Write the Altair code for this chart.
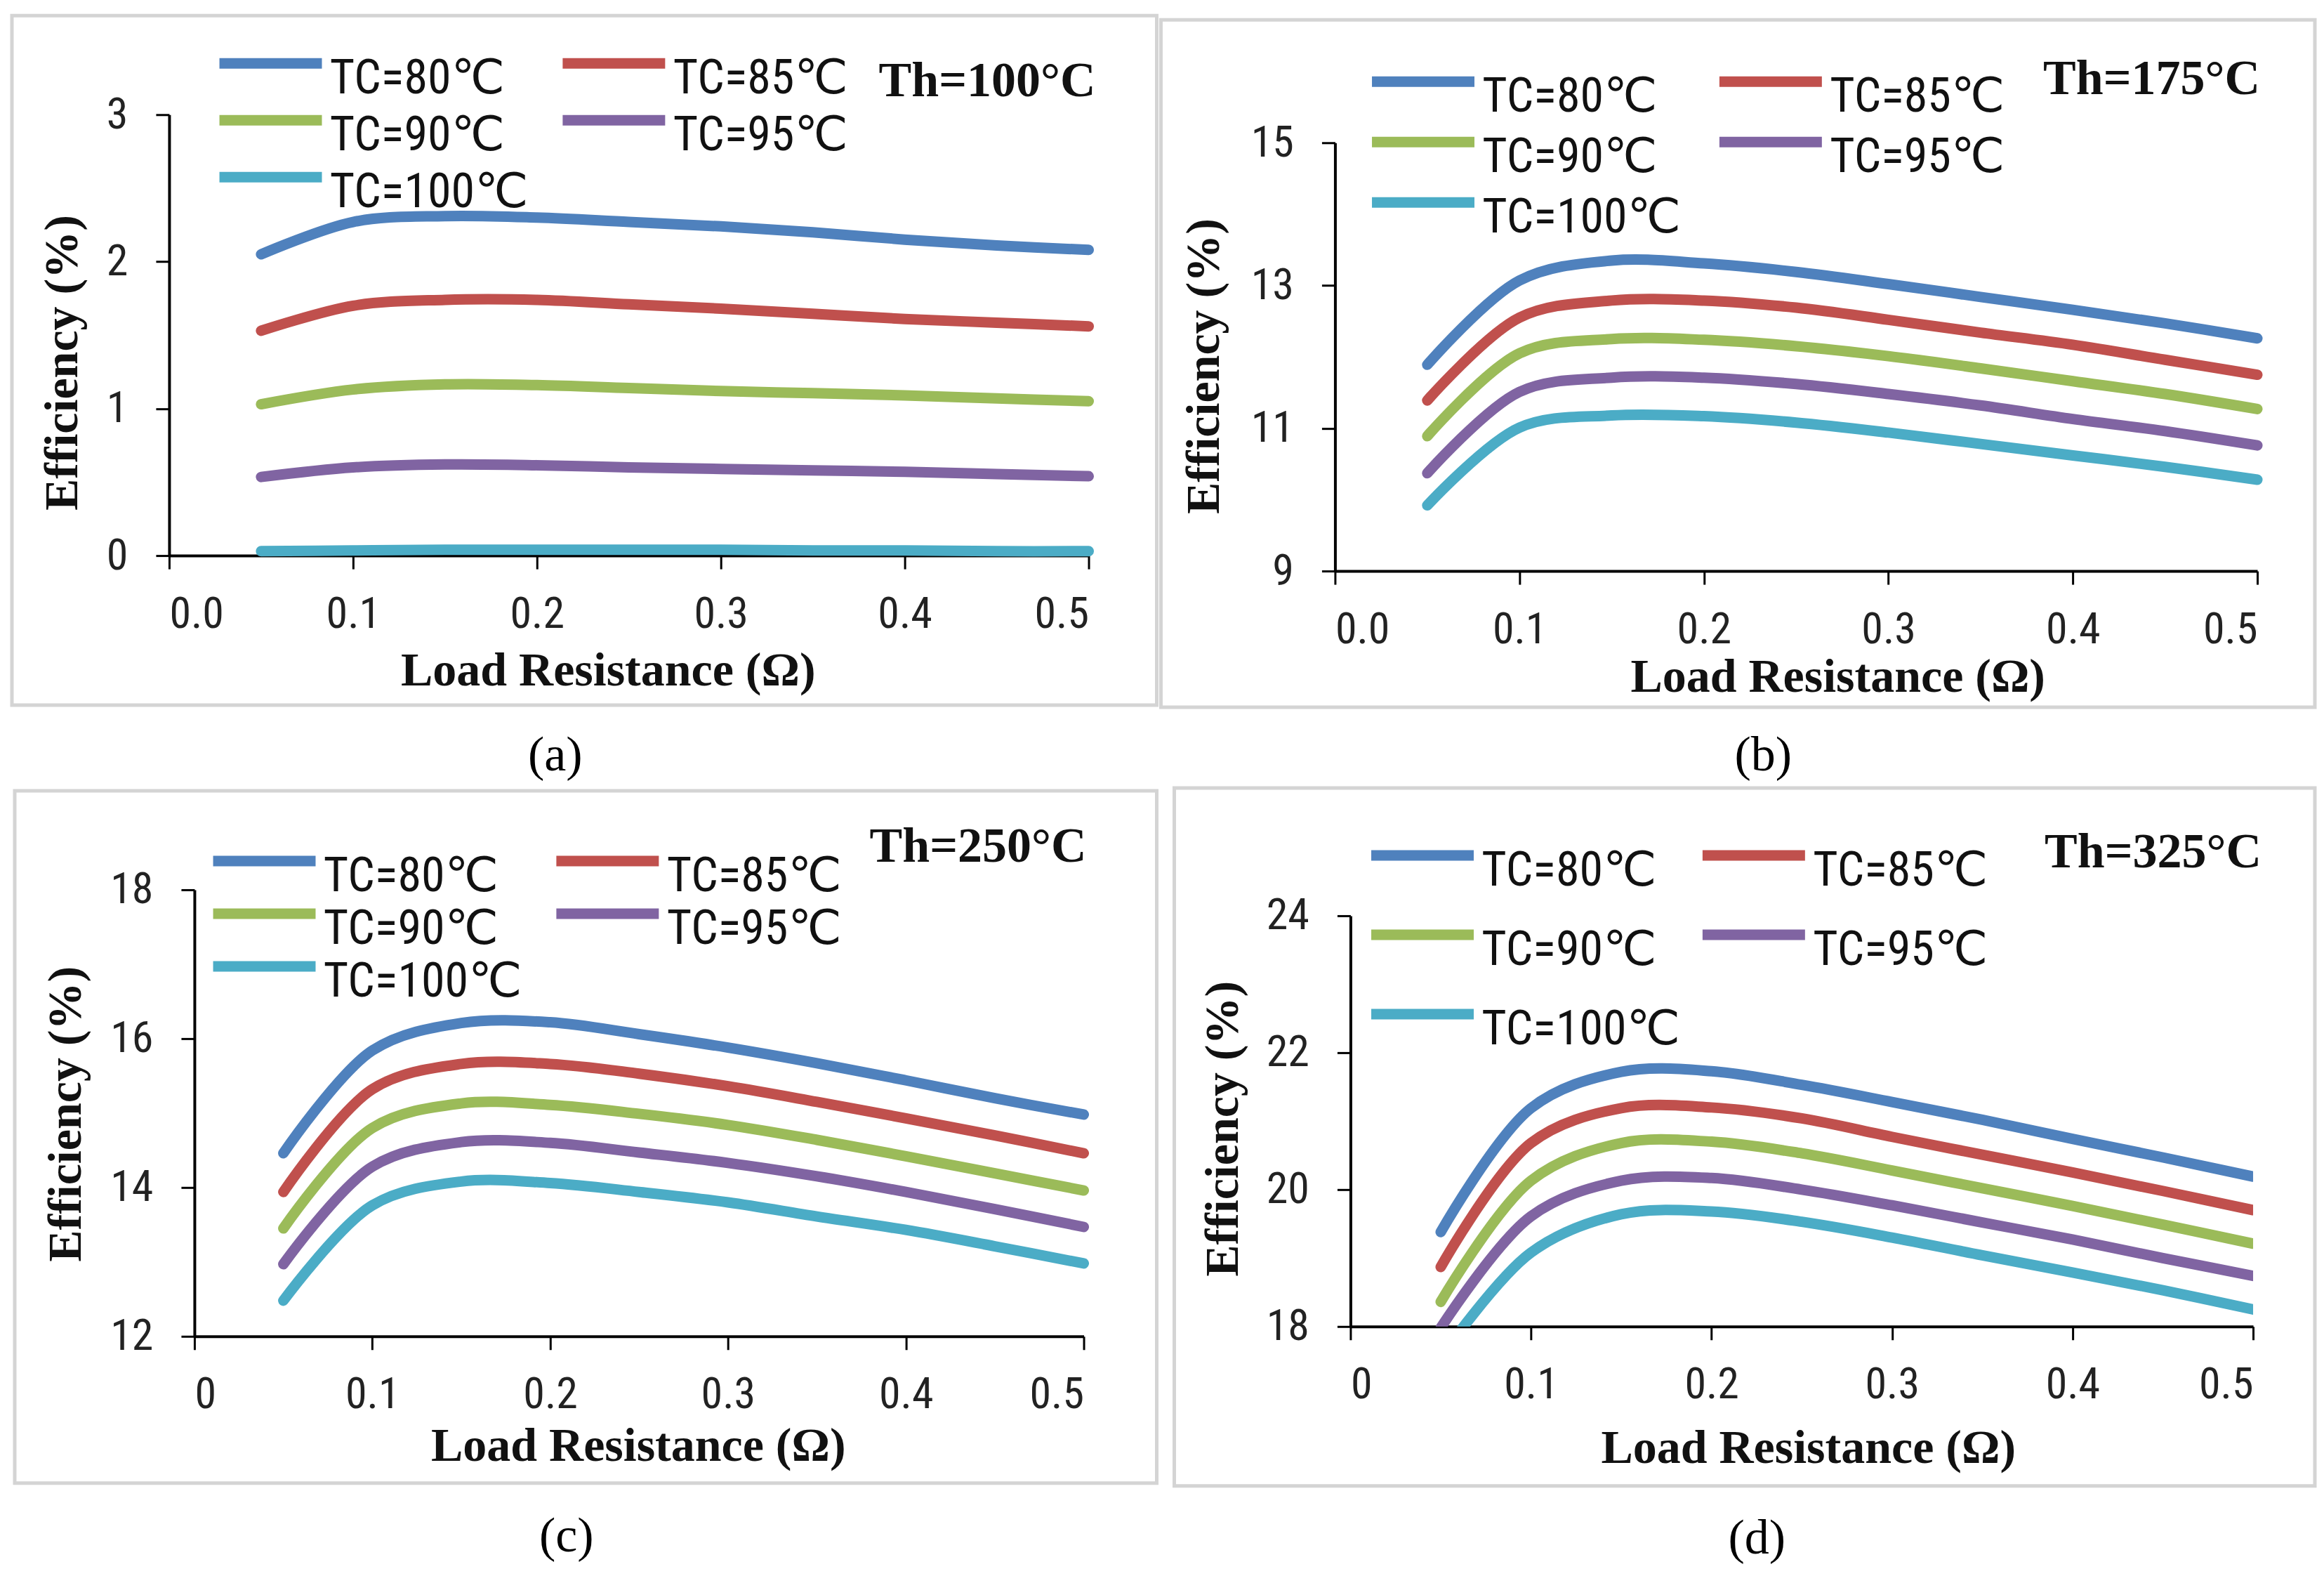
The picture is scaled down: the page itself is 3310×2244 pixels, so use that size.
import altair as alt
import pandas as pd

# ---------------- data ----------------
load_r = [0.05, 0.1, 0.15, 0.2, 0.25, 0.3, 0.35, 0.4, 0.45, 0.5]
series_names = ["TC=80℃", "TC=85℃", "TC=90℃", "TC=95℃", "TC=100℃"]
series_colors = ["#4F81BD", "#C0504D", "#9BBB59", "#8064A2", "#4BACC6"]
# legend is filled column by column: this order gives rows 80|85, 90|95, 100
legend_order = ["TC=80℃", "TC=90℃", "TC=100℃", "TC=85℃", "TC=95℃"]

# (a) Th=100°C
a80 = [2.05, 2.27, 2.31, 2.30, 2.27, 2.24, 2.20, 2.15, 2.11, 2.08]
a85 = [1.53, 1.70, 1.74, 1.74, 1.71, 1.68, 1.645, 1.61, 1.585, 1.56]
a90 = [1.03, 1.13, 1.165, 1.16, 1.14, 1.12, 1.105, 1.09, 1.07, 1.05]
a95 = [0.535, 0.60, 0.62, 0.615, 0.60, 0.59, 0.58, 0.57, 0.555, 0.54]
a100 = [0.03, 0.035, 0.04, 0.04, 0.04, 0.04, 0.035, 0.035, 0.03, 0.03]
# (b) Th=175°C
b80 = [11.89, 13.07, 13.35, 13.31, 13.19, 13.02, 12.84, 12.66, 12.47, 12.26]
b85 = [11.39, 12.55, 12.79, 12.79, 12.69, 12.52, 12.34, 12.17, 11.96, 11.75]
b90 = [10.89, 12.05, 12.25, 12.24, 12.15, 12.01, 11.84, 11.66, 11.48, 11.27]
b95 = [10.37, 11.51, 11.71, 11.71, 11.62, 11.48, 11.32, 11.13, 10.96, 10.76]
b100 = [9.92, 11.01, 11.18, 11.17, 11.08, 10.94, 10.78, 10.62, 10.46, 10.28]
# (c) Th=250°C
c80 = [14.46, 15.84, 16.21, 16.22, 16.06, 15.88, 15.67, 15.44, 15.20, 14.98]
c85 = [13.94, 15.32, 15.66, 15.66, 15.53, 15.36, 15.15, 14.93, 14.70, 14.46]
c90 = [13.45, 14.80, 15.13, 15.11, 14.99, 14.84, 14.64, 14.42, 14.19, 13.96]
c95 = [12.97, 14.28, 14.61, 14.60, 14.47, 14.33, 14.15, 13.94, 13.71, 13.47]
c100 = [12.48, 13.76, 14.08, 14.06, 13.94, 13.80, 13.61, 13.43, 13.21, 12.98]
# (d) Th=325°C
d80 = [19.38, 21.19, 21.72, 21.73, 21.53, 21.28, 21.02, 20.74, 20.47, 20.19]
d85 = [18.87, 20.68, 21.19, 21.20, 21.04, 20.77, 20.51, 20.25, 19.98, 19.70]
d90 = [18.36, 20.13, 20.68, 20.70, 20.53, 20.28, 20.02, 19.76, 19.49, 19.21]
d95 = [17.98, 19.61, 20.13, 20.17, 20.00, 19.77, 19.52, 19.27, 19.00, 18.74]
d100 = [17.55, 19.08, 19.64, 19.68, 19.53, 19.30, 19.04, 18.79, 18.53, 18.25]

y_ticks_a = [0, 1, 2, 3]
y_ticks_b = [9, 11, 13, 15]
y_ticks_c = [12, 14, 16, 18]
y_ticks_d = [18, 20, 22, 24]
x_ticks = [0, 0.1, 0.2, 0.3, 0.4, 0.5]

SANS = "Liberation Sans Narrow, Roboto Condensed, Liberation Sans, DejaVu Sans"
SERIF = "Liberation Serif, Times New Roman, DejaVu Serif"
LW = 15
R_SYM = 18.25                    # symbol radius; path spans 8r -> 146 px line
SYM_PATH = "M-1.5,-1.25H6.5"     # line kept right of the entry's left edge, above label centre
SYM_DY = -1.25 * R_SYM
ENTRY_H = 75                     # legend entry height (clipHeight)
color_of = dict(zip(series_names, series_colors))

COL_X = [241, 1900]              # group origin x per column (page px)
ROW_Y = [163, 1267]              # group origin y per row


def long_df(cols):
    rows = []
    for name, vals in zip(series_names, cols):
        for xv, yv in zip(load_r, vals):
            rows.append({"r": xv, "eff": yv, "series": name})
    return pd.DataFrame(rows)


def panel(cols, ydom, yticks, xfmt, col, row, lay, th_text, cap_text, clip):
    gx, gy = COL_X[col], ROW_Y[row]
    x0, x1, y0, y1 = lay["plot"]
    L, T, R, B = lay["frame"]
    w, h = x1 - gx, y1 - gy
    df = long_df(cols)

    box = alt.Chart(pd.DataFrame({"k": [0]})).mark_rect(
        fill="#ffffff", fillOpacity=0, stroke="#d4d4d4", strokeWidth=5
    ).encode(x=alt.value(L - gx), x2=alt.value(R - gx), y=alt.value(T - gy), y2=alt.value(B - gy))

    lx, ly, rowpad, colpad = lay["legend"]
    lines = alt.Chart(df).mark_line(
        strokeWidth=LW, interpolate="catmull-rom", clip=clip, strokeCap="round"
    ).encode(
        x=alt.X("r:Q", scale=alt.Scale(domain=[0, 0.5], nice=False, range=[x0 - gx, x1 - gx]),
                axis=alt.Axis(values=x_ticks, format=xfmt, title="Load Resistance (Ω)",
                              titleX=lay["xtitle"][0] - gx, titleY=lay["xtitle"][1] - y1,
                              titleAlign="center", titleBaseline="middle")),
        y=alt.Y("eff:Q", scale=alt.Scale(domain=ydom, nice=False, zero=False,
                                         range=[y1 - gy, y0 - gy]),
                axis=alt.Axis(values=yticks, title="Efficiency (%)", offset=-(x0 - gx),
                              titleX=lay["ytitle"][0] - x0, titleY=lay["ytitle"][1] - gy,
                              titleAlign="center", titleBaseline="middle", titleAngle=270)),
        color=alt.Color("series:N",
                        scale=alt.Scale(domain=legend_order,
                                        range=[color_of[s] for s in legend_order]),
                        legend=alt.Legend(title=None, orient="none",
                                          legendX=lx - gx - 5,
                                          legendY=ly - gy - (ENTRY_H / 2 + SYM_DY),
                                          columns=2, symbolType=SYM_PATH,
                                          symbolSize=(2 * R_SYM) ** 2, clipHeight=ENTRY_H,
                                          symbolStrokeWidth=LW, labelFont=SANS, labelFontSize=68,
                                          labelColor="#111111", labelBaseline="middle", labelOffset=96,
                                          labelLimit=0, rowPadding=rowpad, columnPadding=colpad,
                                          padding=0, symbolOpacity=1)),
        detail="series:N",
    )
    th = alt.Chart(pd.DataFrame({"t": [th_text]})).mark_text(
        font=SERIF, fontSize=70, fontWeight="bold", align="right", baseline="middle", color="#111111"
    ).encode(text="t:N", x=alt.value(lay["th"][0] - gx), y=alt.value(lay["th"][1] - gy))
    cap = alt.Chart(pd.DataFrame({"t": [cap_text]})).mark_text(
        font=SERIF, fontSize=70, align="center", baseline="middle", color="#000000"
    ).encode(text="t:N", x=alt.value(lay["cap"][0] - gx), y=alt.value(lay["cap"][1] - gy))
    return alt.layer(box, lines, th, cap).properties(width=w, height=h)


LAY_A = {"plot": (241, 1551, 163, 791), "frame": (17, 22, 1648, 1004),
         "legend": (311, 90, 6, 42), "xtitle": (866, 955), "ytitle": (90, 516),
         "th": (1561, 116), "cap": (791, 1076)}
LAY_B = {"plot": (1900, 3214, 203, 813), "frame": (1652, 28, 3296, 1007),
         "legend": (1951, 116, 11, 48), "xtitle": (2616, 964), "ytitle": (1714, 521),
         "th": (3218, 113), "cap": (2510, 1076)}
LAY_C = {"plot": (277, 1544, 1267, 1903), "frame": (21, 1126, 1648, 2112),
         "legend": (302, 1226, 0, 42), "xtitle": (909, 2060), "ytitle": (95, 1586),
         "th": (1548, 1206), "cap": (807, 2188)}
LAY_D = {"plot": (1922, 3208, 1304, 1889), "frame": (1671, 1122, 3296, 2116),
         "legend": (1950, 1218, 38, 25), "xtitle": (2574, 2063), "ytitle": (1741, 1607),
         "th": (3220, 1214), "cap": (2501, 2191)}

pa = panel([a80, a85, a90, a95, a100], [0, 3], y_ticks_a, ".1f", 0, 0, LAY_A, "Th=100°C", "(a)", False)
pb = panel([b80, b85, b90, b95, b100], [9, 15], y_ticks_b, ".1f", 1, 0, LAY_B, "Th=175°C", "(b)", False)
pc = panel([c80, c85, c90, c95, c100], [12, 18], y_ticks_c, "~g", 0, 1, LAY_C, "Th=250°C", "(c)", False)
pd_ = panel([d80, d85, d90, d95, d100], [18, 24], y_ticks_d, "~g", 1, 1, LAY_D, "Th=325°C", "(d)", True)

chart = alt.concat(
    pa, pb, pc, pd_, columns=2, spacing={"row": 8, "column": 0}
).resolve_scale(
    x="independent", y="independent", color="independent"
).resolve_legend(color="independent").properties(
    padding={"left": 6, "top": 11, "right": 2, "bottom": 2},
    background="#ffffff",
).configure_view(stroke=None).configure_axis(
    domainColor="#000000", domainWidth=4, tickColor="#000000", tickWidth=3, tickSize=19,
    labelFont=SANS, labelFontSize=62, labelColor="#222222", labelPadding=34,
    titleFont=SERIF, titleFontSize=68, titleFontWeight="bold", titleColor="#111111",
    grid=False,
).configure_axisY(labelPadding=40)

chart.save("out.html", embed_options={"renderer": "svg", "actions": False})
